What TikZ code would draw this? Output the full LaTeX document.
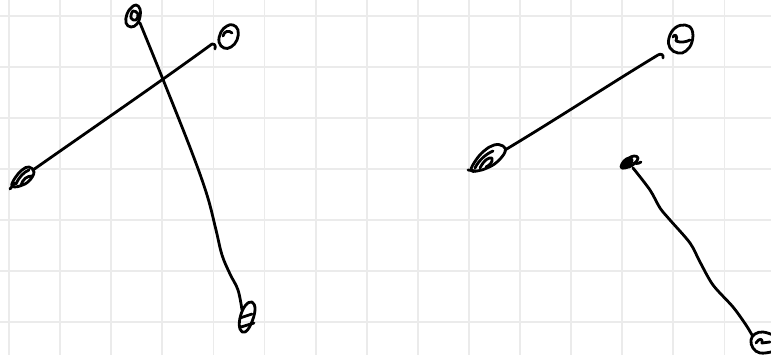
\documentclass[tikz,border=0pt]{standalone}
\begin{document}
\begin{tikzpicture}[x=1pt,y=-1pt,
  ink/.style={line width=2.8pt, line cap=round, line join=round, black},
  gridline/.style={line width=1.8pt, color=black!8}]
\useasboundingbox (0,0) rectangle (771,355);
\fill[white] (0,0) rectangle (771,355);
% grid
\foreach \i in {0,...,14} \draw[gridline] ({9+51.1*\i},0) -- ({9+51.1*\i},355);
\foreach \j in {0,...,6} \draw[gridline] (0,{16+51*\j}) -- (771,{16+51*\j});

% ---- end points (named) ----
\coordinate (A) at (22,177);
\coordinate (a1) at (33,170);
\coordinate (C) at (229,37);
\coordinate (c1) at (212,44);
\coordinate (B) at (134,15);
\coordinate (b1) at (140,23);
\coordinate (D) at (247,317);
\coordinate (d1) at (242,310);
\coordinate (E) at (487,158);
\coordinate (e1) at (505,150);
\coordinate (F) at (681,39);
\coordinate (f1) at (658,55);
\coordinate (G) at (630,163);
\coordinate (g1) at (633,168);
\coordinate (H) at (762,342);
\coordinate (h1) at (752,335);

% ---- scribble A ----
\draw[ink] plot[smooth cycle, tension=0.7] coordinates {(12,186) (15,178) (22,170) (29,167) (34,172) (29,181) (20,186)};
\draw[ink] (10,189) -- (15,183);
\draw[ink] (16,184) .. controls (19,177) and (24,172) .. (29,170);
\draw[ink] (21,185) .. controls (23,179) and (27,176) .. (32,176);
% ---- scribble C ----
\draw[ink] plot[smooth cycle, tension=0.7] coordinates {(233,25) (238,30) (237,40) (231,47) (224,48) (219,42) (221,32) (227,26)};
\draw[ink] (223,36) .. controls (224,31) and (229,30) .. (232,33);
% ---- scribble B ----
\draw[ink] plot[smooth cycle, tension=0.7] coordinates {(136,5) (140,9) (140,17) (137,24) (131,27) (126,23) (127,14) (131,8)};
\draw[ink] plot[smooth cycle, tension=0.7] coordinates {(133,11) (138,14) (136,20) (131,18)};
% ---- scribble D ----
\draw[ink] plot[smooth cycle, tension=0.7] coordinates {(252,302) (255,310) (251,324) (245,332) (240,329) (240,318) (245,306)};
\draw[ink] (240,318) -- (252,314);
\draw[ink] (241,327) -- (254,323);
% ---- scribble E ----
\draw[ink] plot[smooth cycle, tension=0.7] coordinates {(471,170) (476,160) (484,151) (494,145) (503,146) (505,152) (497,162) (487,168) (477,171)};
\draw[ink] (468,170) -- (476,171);
\draw[ink] (475,168) .. controls (479,160) and (486,154) .. (493,151);
\draw[ink] (480,168) .. controls (484,160) and (489,157) .. (492,158) .. controls (493,162) and (490,165) .. (486,167);
% ---- scribble F ----
\draw[ink] plot[smooth cycle, tension=0.7] coordinates {(685,25) (692,30) (692,42) (686,51) (678,53) (670,48) (669,38) (675,28)};
\draw[ink] (673,37) .. controls (675,33) and (678,36) .. (676,41) .. controls (681,43) and (686,42) .. (690,40);
% ---- scribble G ----
\filldraw[ink] plot[smooth cycle, tension=0.7] coordinates {(621,167) (624,161) (629,158) (632,160) (630,165) (625,168)};
\draw[ink] plot[smooth cycle, tension=0.7] coordinates {(624,166) (628,159) (634,156) (638,158) (635,163) (629,167)};
\draw[ink] (634,163) .. controls (638,164) and (640,163) .. (641,162);
% ---- scribble H ----
\draw[ink] plot[smooth, tension=0.7] coordinates {(773,335) (763,332) (755,334) (751,340) (753,348) (760,353) (771,352)};
\draw[ink] (756,343) .. controls (759,338) and (763,338) .. (762,343) -- (770,342);

% ---- connectors ----
\draw[ink] (a1) .. controls (90,130) and (160,82) .. (c1) .. controls (214,43) and (216,45) .. (215,49);
\draw[ink] plot[smooth, tension=0.6] coordinates {(b1) (162,77) (191,150) (207,195) (216,230) (222,255) (230,274) (238,290) (d1)};
\draw[ink] (e1) .. controls (560,117) and (610,84) .. (f1) .. controls (661,53) and (664,55) .. (663,58);
\draw[ink] plot[smooth, tension=0.5] coordinates {(g1) (650,190) (660,208) (670,220) (690,243) (700,262) (713,285) (733,307) (746,325) (h1)};
\end{tikzpicture}
\end{document}
